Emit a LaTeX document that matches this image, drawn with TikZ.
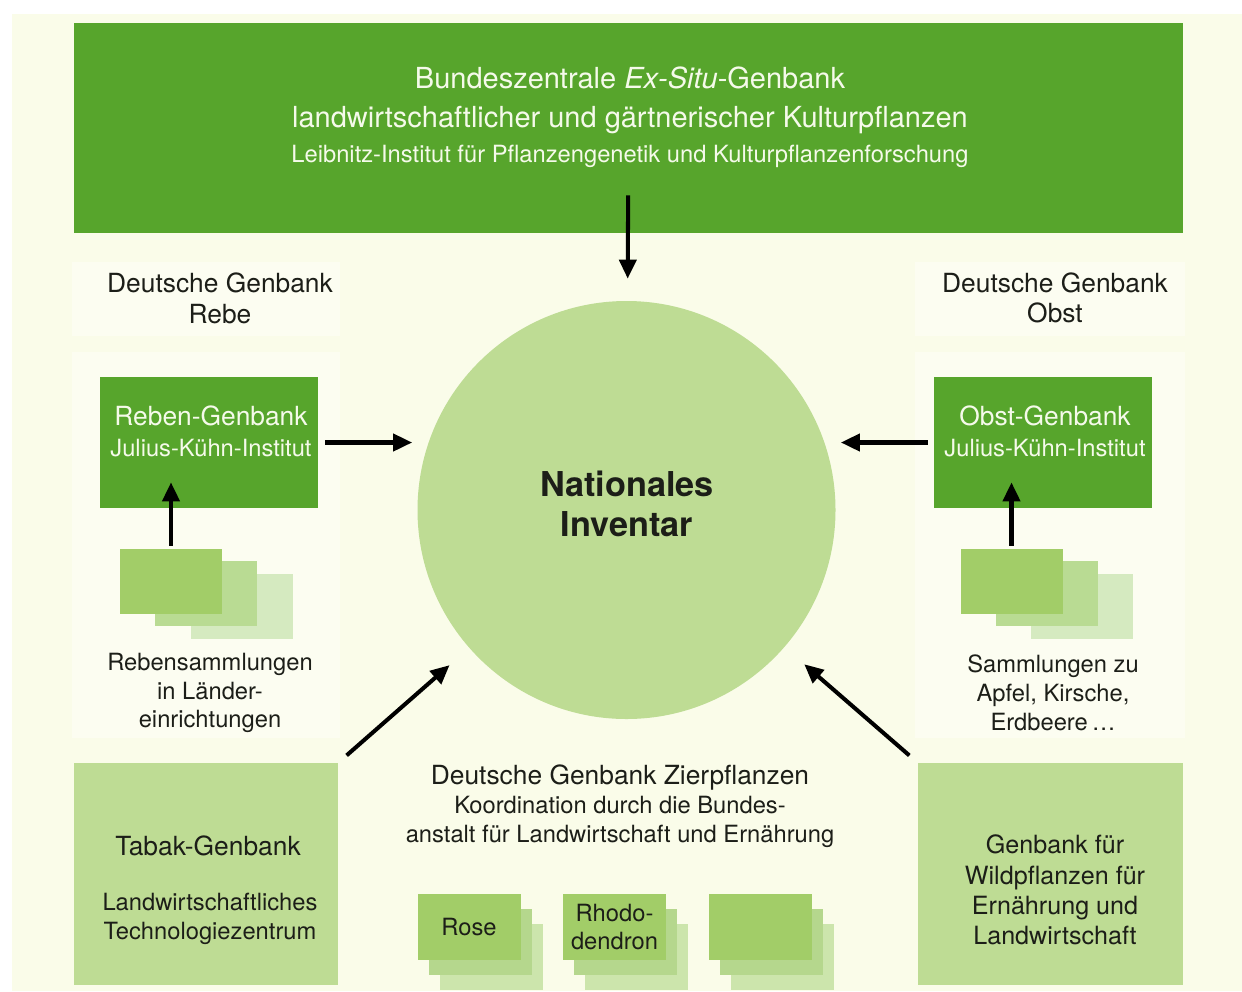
\documentclass[tikz,border=0pt]{standalone}
\usepackage{fontspec}
\setmainfont{TeX Gyre Heros}
\usepackage{tikz}
\usetikzlibrary{calc}
\usetikzlibrary{arrows.meta}
\definecolor{creme}{RGB}{250,252,233}
\definecolor{panel}{RGB}{252,253,241}
\definecolor{gruen}{RGB}{87,165,44}
\definecolor{hellgruen}{RGB}{190,220,148}
\definecolor{stk1}{RGB}{162,205,104}
\definecolor{stk2}{RGB}{185,219,147}
\definecolor{stk3}{RGB}{213,234,192}
\definecolor{zk1}{RGB}{162,205,104}
\definecolor{zk2}{RGB}{181,215,141}
\definecolor{zk3}{RGB}{204,229,172}
\definecolor{weisslich}{RGB}{245,250,234}
\definecolor{schrift}{RGB}{28,30,24}
\tikzset{
  gross/.style={font=\fontsize{15}{17.5}\selectfont},
  klein/.style={font=\fontsize{13.5}{16.4}\selectfont},
  kasten/.style={rectangle, inner sep=0, draw=none},
  txt/.style={align=center, inner sep=0, text=schrift},
  pfeil/.style={line width=2.3pt, -{Triangle[length=3.8mm, width=3.4mm]}},
}

\begin{document}
\begin{tikzpicture}[x=.2mm, y=-.2mm]
\useasboundingbox (0,0) rectangle (1242,991);
\fill[white] (0,0) rectangle (1242,991);
\fill[creme] (12,14) rectangle (1242,991);
% helle Felder hinter den Gruppen
\fill[panel] (72,262) rectangle (340,336);
\fill[panel] (915,262) rectangle (1185,336);
\fill[panel] (72,352) rectangle (340,738);
\fill[panel] (915,352) rectangle (1185,738);

% Bundeszentrale
\node[kasten, fill=gruen, minimum width=22.18cm, minimum height=4.2cm] (bzg) at (628.5,128) {};
\node[txt, text=weisslich, font=\fontsize{16.5}{22}\selectfont] (bzgtxt) at (630,117)
  {Bundeszentrale \textit{Ex-Situ}-Genbank\\landwirtschaftlicher und gärtnerischer Kulturpflanzen\\[-2pt]{\fontsize{13.5}{16}\selectfont Leibnitz-Institut für Pflanzengenetik und Kulturpflanzenforschung}};

% Nationales Inventar
\node[circle, fill=hellgruen, minimum size=8.36cm, inner sep=0] (inv) at (626.5,510) {};
\node[txt, font=\bfseries\fontsize{19.5}{22.7}\selectfont] (invtxt) at (627,504) {Nationales\\Inventar};

% Rebe und Obst
\node[txt, gross] (lblrebe) at (220,298) {Deutsche Genbank\\Rebe};
\node[txt, gross] (lblobst) at (1055,298) {Deutsche Genbank\\Obst};
\node[kasten, fill=gruen, minimum width=4.36cm, minimum height=2.62cm] (reben) at (209,442.5) {};
\node[kasten, fill=gruen, minimum width=4.36cm, minimum height=2.62cm] (obst) at (1043,442.5) {};
\node[txt, text=weisslich, gross] (rebentxt) at (211,431) {Reben-Genbank\\{\fontsize{13.5}{16}\selectfont Julius-Kühn-Institut}};
\node[txt, text=weisslich, gross] (obsttxt) at (1045,431) {Obst-Genbank\\{\fontsize{13.5}{16}\selectfont Julius-Kühn-Institut}};
\foreach \i in {3,2,1} {
  \node[kasten, fill=stk\i, minimum width=2.04cm, minimum height=1.3cm] (stL\i) at ({171+35.3*(\i-1)},{581.5+12.3*(\i-1)}) {};
  \node[kasten, fill=stk\i, minimum width=2.04cm, minimum height=1.3cm] (stR\i) at ({1011.5+35.3*(\i-1)},{581.5+12.3*(\i-1)}) {};
}
\node[txt, klein] (rebsam) at (210,693) {Rebensammlungen\\in Länder-\\einrichtungen};
\node[txt, klein] (obstsam) at (1053,693) {Sammlungen zu\\Apfel, Kirsche,\\Erdbeere\,\dots};

% Tabak und Wildpflanzen
\node[kasten, fill=hellgruen, minimum width=5.28cm, minimum height=4.44cm] (tabak) at (206,874) {};
\node[kasten, fill=hellgruen, minimum width=5.3cm, minimum height=4.44cm] (wild) at (1050.5,874) {};
\node[txt, gross] (tabaktxt) at (208,846) {Tabak-Genbank};
\node[txt, klein] (ltztxt) at (210,919) {Landwirtschaftliches\\Technologiezentrum};
\node[txt, font=\fontsize{14.3}{17.2}\selectfont] (wildtxt) at (1055,890) {Genbank für\\Wildpflanzen für\\Ernährung und\\Landwirtschaft};

% Zierpflanzen
\node[txt, klein] (ziertxt) at (620,806) {{\fontsize{15}{17.5}\selectfont Deutsche Genbank Zierpflanzen}\\Koordination durch die Bundes-\\anstalt für Landwirtschaft und Ernährung};
\foreach \x/\n in {469/rose, 614.5/rhodo, 760.5/leer} {
  \foreach \i in {3,2,1} {
    \node[kasten, fill=zk\i, minimum width=2.06cm, minimum height=1.32cm] (\n\i) at ({\x+11*(\i-1)},{927+15*(\i-1)}) {};
  }
}
\node[txt, klein] (rosetxt) at (rose1) {Rose};
\node[txt, klein] (rhodotxt) at (rhodo1) {Rhodo-\\dendron};

% Pfeile
\draw[pfeil, shorten <=-0.76cm, shorten >=0.44cm] (bzg) -- (inv);
\draw[pfeil, shorten <=0.14cm, shorten >=0.1cm] (reben.east) -- (reben.east -| inv.west);
\draw[pfeil, shorten <=0.12cm, shorten >=0.1cm] (obst.west) -- (obst.west -| inv.east);
\draw[pfeil, shorten <=0.06cm, shorten >=-0.52cm] (stL1.north) -- (stL1.north |- reben.south);
\draw[pfeil, shorten <=0.06cm, shorten >=-0.52cm] (stR1.north) -- (stR1.north |- obst.south);
\draw[pfeil, shorten <=0.22cm, shorten >=0.52cm] (tabak.north east) -- (inv);
\draw[pfeil, shorten <=0.22cm, shorten >=0.52cm] (wild.north west) -- (inv);
\end{tikzpicture}
\end{document}
